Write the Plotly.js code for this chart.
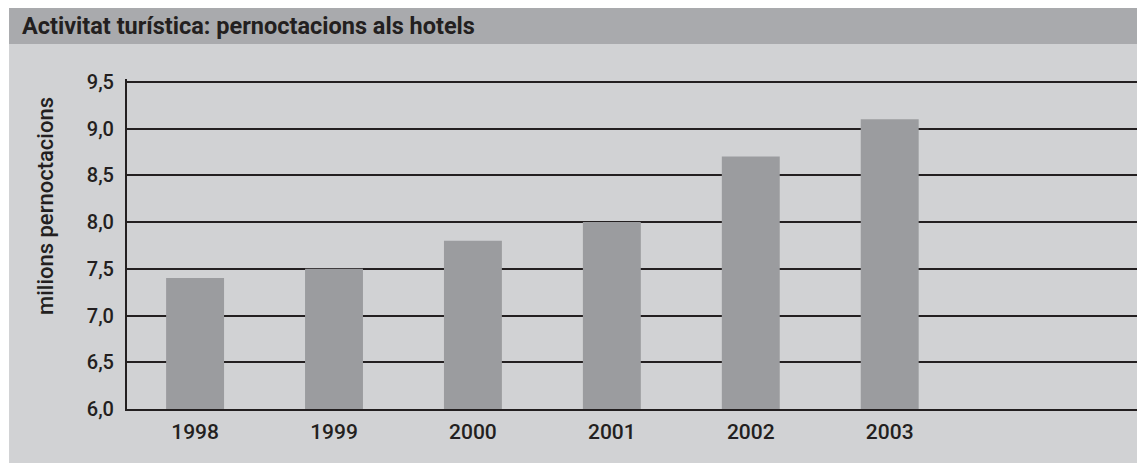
<!DOCTYPE html>
<html>
<head>
<meta charset="utf-8">
<script src="https://cdn.plot.ly/plotly-3.0.1.min.js"></script>
<style>
  html, body { margin: 0; padding: 0; background: #ffffff; }
  #chart { width: 1137px; height: 464px; }
</style>
</head>
<body>
<div id="chart"></div>
<script>
// dades llegides del gràfic
var anys = ['1998', '1999', '2000', '2001', '2002', '2003'];
var pernoctacions = [7.4, 7.5, 7.8, 8.0, 8.7, 9.1];
var tickValors = [6.0, 6.5, 7.0, 7.5, 8.0, 8.5, 9.0, 9.5];

var textColor = '#231f20';
var fontFamily = 'Roboto, "Liberation Sans", Arial, sans-serif';

var data = [
    {
        x: anys,
        y: pernoctacions,
        type: 'bar',
        width: 0.417,
        marker: { color: '#9b9c9f', line: { width: 0 } },
        hoverinfo: 'x+y'
    }
];

var layout = {
    width: 1137,
    height: 464,
    margin: { l: 127, r: 0, t: 79, b: 55, pad: 0 },
    paper_bgcolor: '#ffffff',
    plot_bgcolor: 'rgba(0,0,0,0)',
    separators: ', ',
    showlegend: false,
    font: { family: fontFamily, color: textColor, size: 20, weight: 500 },
    title: {
        text: 'Activitat turística: pernoctacions als hotels',
        font: { family: fontFamily, size: 23.5, weight: 'bold', color: textColor },
        xref: 'container', yref: 'container',
        x: 22 / 1137, xanchor: 'left',
        y: 1 - 26 / 464, yanchor: 'middle'
    },
    xaxis: {
        type: 'category',
        range: [-0.49, 6.78],
        showgrid: false,
        zeroline: false,
        showline: true,
        linecolor: textColor,
        linewidth: 2,
        ticks: '',
        ticklabelstandoff: 3,
        tickfont: { size: 21, weight: 500, color: textColor },
        fixedrange: true
    },
    yaxis: {
        range: [6, 9.53],
        tickvals: tickValors,
        tickformat: '.1f',
        showgrid: true,
        gridcolor: textColor,
        gridwidth: 2,
        zeroline: false,
        showline: true,
        linecolor: textColor,
        linewidth: 2,
        ticks: '',
        ticklabelstandoff: 7,
        tickfont: { size: 20, weight: 500, color: textColor },
        fixedrange: true
    },
    shapes: [
        // franja del títol
        { type: 'rect', xref: 'paper', yref: 'paper', layer: 'below',
          x0: -0.1168, x1: 1.0, y0: 365 / 330, y1: 401 / 330,
          fillcolor: '#a9aaad', line: { width: 0 } },
        // fons del gràfic
        { type: 'rect', xref: 'paper', yref: 'paper', layer: 'below',
          x0: -0.1168, x1: 1.0, y0: -54 / 330, y1: 365 / 330,
          fillcolor: '#d1d2d4', line: { width: 0 } }
    ],
    annotations: [
        { text: 'milions pernoctacions', xref: 'paper', yref: 'paper',
          x: (45 - 127) / 1010, y: 203 / 330, textangle: -90,
          xanchor: 'center', yanchor: 'middle', showarrow: false,
          font: { family: fontFamily, size: 22, weight: 500, color: textColor } }
    ]
};

Plotly.newPlot('chart', data, layout, { displayModeBar: false, staticPlot: true });
</script>
</body>
</html>
